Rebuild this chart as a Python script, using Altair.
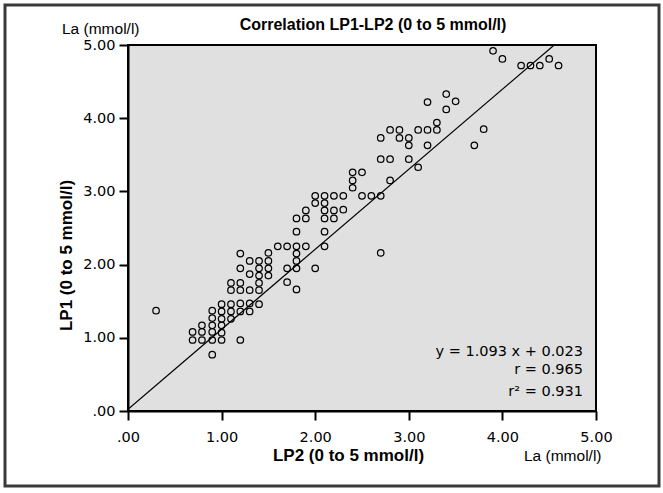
import altair as alt
import pandas as pd

# LP2 (x) and LP1 (y) lactate values, mmol/l
lp2 = [0.30,
       0.69, 0.69,
       0.79, 0.79, 0.79,
       0.90, 0.90, 0.90, 0.90, 0.90, 0.90,
       1.00, 1.00, 1.00, 1.00, 1.00, 1.00,
       1.10, 1.10, 1.10, 1.10, 1.10,
       1.20, 1.20, 1.20, 1.20, 1.20, 1.20, 1.20,
       1.30, 1.30, 1.30, 1.30, 1.30,
       1.40, 1.40, 1.40, 1.40, 1.40, 1.40,
       1.50, 1.50, 1.50, 1.50,
       1.60,
       1.70, 1.70, 1.70,
       1.80, 1.80, 1.80, 1.80, 1.80, 1.80, 1.80,
       1.90, 1.90, 1.90,
       2.00, 2.00, 2.00,
       2.10, 2.10, 2.10, 2.10, 2.10, 2.10,
       2.20, 2.20, 2.20,
       2.30, 2.30,
       2.40, 2.40, 2.40,
       2.50, 2.50,
       2.60,
       2.70, 2.70, 2.70, 2.70,
       2.80, 2.80, 2.80,
       2.90, 2.90,
       3.00, 3.00, 3.00,
       3.10, 3.10,
       3.20, 3.20, 3.20,
       3.30, 3.30,
       3.40, 3.40,
       3.50,
       3.70,
       3.80,
       3.90,
       4.00,
       4.20, 4.30, 4.40,
       4.50,
       4.60]
lp1 = [1.37,
       1.08, 0.97,
       1.17, 1.08, 0.97,
       1.37, 1.27, 1.17, 1.08, 0.97, 0.77,
       1.46, 1.36, 1.26, 1.17, 1.07, 0.97,
       1.75, 1.65, 1.46, 1.36, 1.26,
       2.15, 1.95, 1.75, 1.65, 1.47, 1.36, 0.97,
       2.05, 1.87, 1.65, 1.47, 1.36,
       2.05, 1.95, 1.85, 1.75, 1.65, 1.46,
       2.16, 2.05, 1.95, 1.85,
       2.25,
       2.25, 1.95, 1.76,
       2.63, 2.45, 2.25, 2.15, 2.05, 1.95, 1.66,
       2.74, 2.63, 2.25,
       2.94, 2.84, 1.95,
       2.94, 2.84, 2.74, 2.63, 2.45, 2.25,
       2.94, 2.74, 2.63,
       2.94, 2.75,
       3.26, 3.15, 3.05,
       3.26, 2.94,
       2.94,
       3.73, 3.44, 2.94, 2.16,
       3.84, 3.44, 3.15,
       3.84, 3.73,
       3.73, 3.63, 3.44,
       3.84, 3.33,
       4.22, 3.84, 3.63,
       3.94, 3.84,
       4.33, 4.12,
       4.23,
       3.63,
       3.85,
       4.92,
       4.81,
       4.72, 4.72, 4.72,
       4.81,
       4.72]

slope = 1.093
intercept = 0.023
axis_max = 5.0
tick_values = [0, 1, 2, 3, 4, 5]
stats_lines = ["y = 1.093 x + 0.023", "r = 0.965", "r\u00b2 = 0.931"]
title_text = "Correlation LP1-LP2 (0 to 5 mmol/l)"
x_title = "LP2 (0 to 5 mmol/l)"
y_title = "LP1 (0 to 5 mmol/l)"
unit_text = "La (mmol/l)"

points = pd.DataFrame({"LP2": lp2, "LP1": lp1})
fit = pd.DataFrame({"LP2": [0.0, (axis_max - intercept) / slope],
                    "LP1": [intercept, axis_max]})
one = pd.DataFrame({"k": [0]})

FONT = "Liberation Sans, Arial, sans-serif"
NUMFONT = "DejaVu Sans, Liberation Sans, sans-serif"
label_expr = "datum.value == 0 ? '.00' : format(datum.value, '.2f')"

x_enc = alt.X("LP2:Q",
              scale=alt.Scale(domain=[0, axis_max], nice=False, zero=True),
              axis=alt.Axis(values=tick_values, labelExpr=label_expr, grid=False,
                            title=x_title, titleFont=FONT, titleFontSize=17,
                            titleFontWeight="bold", titleColor="black",
                            titleX=220, titleY=49, titleBaseline="alphabetic",
                            titleAlign="center",
                            tickSize=9, tickWidth=2, tickColor="black",
                            domainColor="black", domainWidth=2,
                            labelFont=NUMFONT, labelFontSize=14.5, labelColor="black",
                            labelBaseline="alphabetic", labelPadding=21,
                            labelFlush=False, labelOverlap=False))
y_enc = alt.Y("LP1:Q",
              scale=alt.Scale(domain=[0, axis_max], nice=False, zero=True),
              axis=alt.Axis(values=tick_values, labelExpr=label_expr, grid=False,
                            title=y_title, titleFont=FONT, titleFontSize=17,
                            titleFontWeight="bold", titleColor="black",
                            titleX=-57, titleY=210, titleAngle=270,
                            titleBaseline="alphabetic", titleAlign="center",
                            tickSize=9, tickWidth=2, tickColor="black",
                            domainColor="black", domainWidth=2,
                            labelFont=NUMFONT, labelFontSize=14.5, labelColor="black",
                            labelPadding=4, labelFlush=False, labelOverlap=False))

scatter = alt.Chart(points).mark_point(
    shape="circle", filled=False, color="black", size=42, strokeWidth=1.25, opacity=1
).encode(x=x_enc, y=y_enc)

line = alt.Chart(fit).mark_line(color="black", strokeWidth=1.2, clip=True).encode(
    x="LP2:Q", y="LP1:Q")

def txt(text, x, y, align="left", bold=False, size=15.5, font=FONT):
    return alt.Chart(one).mark_text(
        text=text, align=align, baseline="alphabetic", font=font, fontSize=size,
        fontWeight="bold" if bold else "normal", color="black"
    ).encode(x=alt.value(x), y=alt.value(y))

texts = [
    txt(title_text, 245, -15, align="center", bold=True, size=16),
    txt(unit_text, -66, -11),
    txt(unit_text, 396, 416),
    txt(stats_lines[0], 455, 311, align="right", size=14.5, font=NUMFONT),
    txt(stats_lines[1], 455, 329, align="right", size=14.5, font=NUMFONT),
    txt(stats_lines[2], 455, 351, align="right", size=14.5, font=NUMFONT),
]

frame = alt.Chart(one).mark_rect(
    fillOpacity=0, stroke="#3a3a3a", strokeWidth=3
).encode(x=alt.value(-123), x2=alt.value(531), y=alt.value(-40), y2=alt.value(441))

chart = alt.layer(scatter, line, *texts, frame).properties(
    width=468, height=366,
    autosize=alt.AutoSizeParams(type="none"),
    padding={"left": 128, "top": 45, "right": 67, "bottom": 82},
    background="white",
).configure_view(fill="#e0e0e0", stroke="black", strokeWidth=2)

chart.save("out.html", embed_options={"renderer": "svg", "actions": False})
